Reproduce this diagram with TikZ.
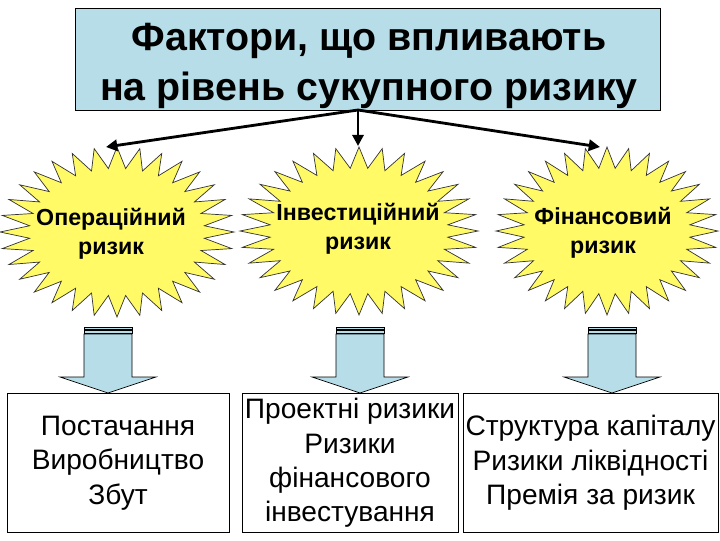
\documentclass[tikz,border=0pt]{standalone}
\usepackage{fontspec}
\setmainfont{Liberation Sans}
\usetikzlibrary{arrows.meta,positioning}
\definecolor{boxBlue}{RGB}{183,222,232}
\definecolor{burstYellow}{RGB}{255,250,102}
\tikzset{
  titlebox/.style={draw, fill=boxBlue, inner sep=0pt,
    minimum width=14.63cm, minimum height=2.55cm},
  titletext/.style={align=center, font=\fontsize{28}{35}\selectfont\bfseries},
  burst/.style={draw=black!80, fill=burstYellow, line width=0.5pt},
  bursttext/.style={align=center, font=\fontsize{16.5}{21}\selectfont\bfseries},
  itembox/.style={draw, inner sep=0pt, align=center, minimum height=3.47cm,
    font=\fontsize{20}{24.5}\selectfont},
  fork/.style={line width=2pt, -{Triangle[length=8pt,width=8pt]}},
  blockarrow/.style={draw, fill=boxBlue, line width=0.5pt}
}
% 32-point star, stretched to an ellipse
\newcommand{\burstAt}[4]{%
  \draw[burst] (#1,#2-#4) \foreach \k in {1,...,63}{
    -- ({#1+(1-0.25*mod(\k,2))*#3*cos(90+\k*5.625)},
        {#2-(1-0.25*mod(\k,2))*#4*sin(90+\k*5.625)})} -- cycle;}

\begin{document}
\begin{tikzpicture}[x=0.025cm, y=-0.025cm]
  \useasboundingbox (0,0) rectangle (720,540);

  \node[titlebox] (factors) at (368,59) {};
  \node[titletext] (factorsText) at (369,66) {Фактори, що впливають\\на рівень сукупного ризику};

  \burstAt{117}{232}{117}{85}
  \burstAt{359}{231}{119}{84}
  \burstAt{607}{231}{111}{84}
  \node[bursttext] (oper) at (111,234) {Операційний\\ризик};
  \node[bursttext] (invest) at (358,229) {Інвестиційний\\ризик};
  \node[bursttext] (fin) at (603,233) {Фінансовий\\ризик};

  \coordinate (split) at (358,110);
  \coordinate (operTop) at (106,147);
  \coordinate (investTop) at (358,146);
  \coordinate (finTop) at (600,147);
  \draw[fork] (split) -- (operTop);
  \draw[fork] (split) -- (investTop);
  \draw[fork] (split) -- (finTop);

  % striped block arrows
  \foreach \cx in {108,360,612} {
    \draw[blockarrow] (\cx-24,327) rectangle (\cx+24,329.5);
    \draw[blockarrow] (\cx-24,330.5) rectangle (\cx+24,333);
    \draw[blockarrow] (\cx-24,334) -- (\cx+24,334) -- (\cx+24,377) -- (\cx+48,377)
      -- (\cx,393) -- (\cx-48,377) -- (\cx-24,377) -- cycle;
  }

  \node[itembox, minimum width=5.55cm] (ops) at (118,463) {Постачання\\Виробництво\\Збут};
  \node[itembox, minimum width=5.4cm] (projects) at (350,463) {Проектні ризики\\Ризики\\фінансового\\інвестування};
  \node[itembox, minimum width=6.375cm] (capital) at (590.5,463) {Структура капіталу\\Ризики ліквідності\\Премія за ризик};
\end{tikzpicture}
\end{document}
